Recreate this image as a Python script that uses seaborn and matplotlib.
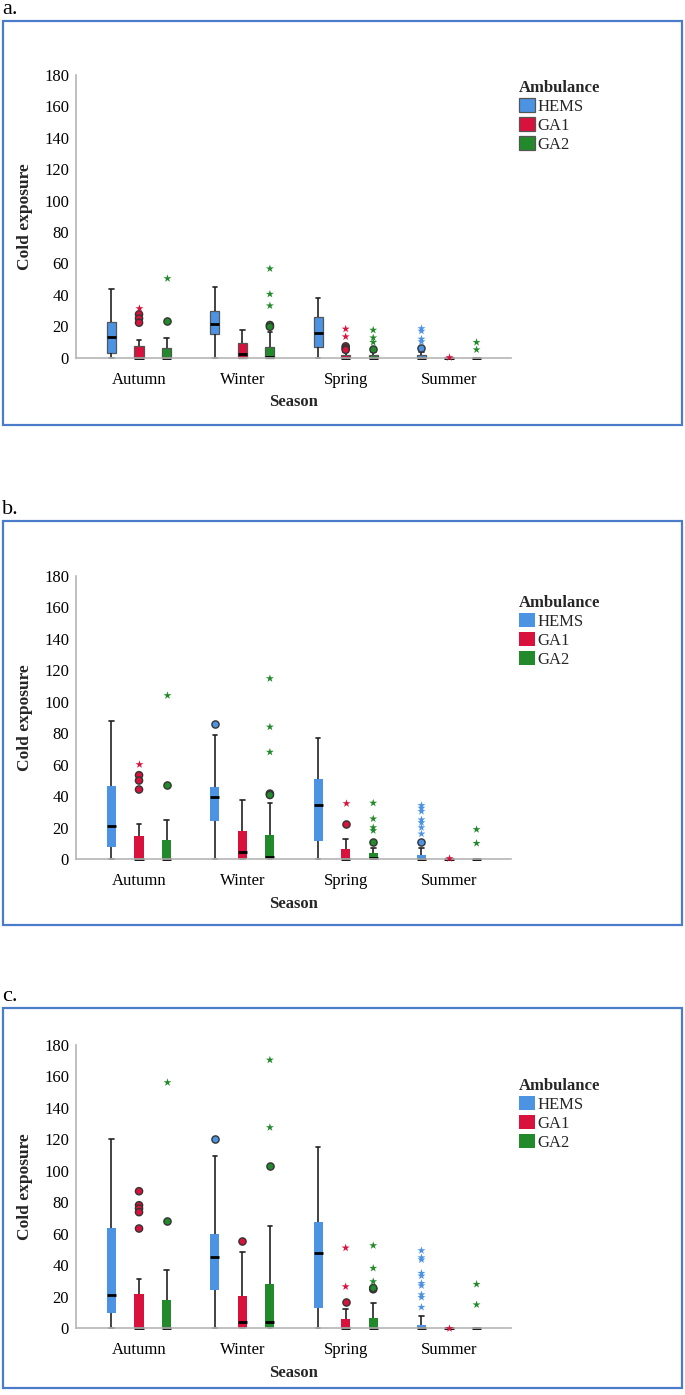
import numpy as np
import pandas as pd
import matplotlib
matplotlib.use("Agg")
import matplotlib.pyplot as plt
from matplotlib.patches import Patch, Rectangle
import seaborn as sns

seasons = ["Autumn", "Winter", "Spring", "Summer"]
ambulances = ["HEMS", "GA1", "GA2"]
colors = ["#4c93e4", "#d9123d", "#238a2b"]
yticks = [0, 20, 40, 60, 80, 100, 120, 140, 160, 180]

# Box statistics, order: Autumn(HEMS,GA1,GA2), Winter(...), Spring(...), Summer(...)
a_lo  = [0, 0, 0,   0, 0, 0,    0, 0, 0,   0, 0, 0]
a_q1  = [3.2, 0, 0, 15.1, 0, 0, 7.0, 0, 0, 0, 0, 0]
a_med = [13.4, 0, 0, 21.2, 2.1, 0.5, 15.9, 0, 0, 0, 0, 0]
a_q3  = [22.9, 7.4, 6.0, 30.0, 9.2, 6.8, 26.1, 2.0, 1.7, 1.7, 0, 0]
a_hi  = [43.7, 11.3, 12.3, 45.2, 17.6, 16.2, 37.8, 3.5, 3.4, 3.8, 0, 0]
a_circ_season = ["Autumn", "Autumn", "Autumn", "Autumn", "Winter", "Winter",
                 "Spring", "Spring", "Spring", "Spring", "Summer"]
a_circ_amb = ["GA1", "GA1", "GA1", "GA2", "GA2", "GA2",
              "GA1", "GA1", "GA1", "GA2", "HEMS"]
a_circ_val = [27.6, 25.0, 22.3, 23.6, 20.8, 19.7, 7.2, 6.0, 5.0, 5.3, 6.4]
a_star_season = ["Autumn", "Autumn", "Winter", "Winter", "Winter",
                 "Spring", "Spring", "Spring", "Spring", "Spring",
                 "Summer", "Summer", "Summer", "Summer", "Summer", "Summer", "Summer"]
a_star_amb = ["GA1", "GA2", "GA2", "GA2", "GA2",
              "GA1", "GA1", "GA2", "GA2", "GA2",
              "HEMS", "HEMS", "HEMS", "HEMS", "GA1", "GA2", "GA2"]
a_star_val = [31.4, 51.0, 56.7, 40.5, 33.1,
              18.3, 13.4, 17.6, 12.7, 9.8,
              18.6, 17.0, 11.9, 10.2, 0.5, 9.8, 5.1]

b_lo  = [0, 0, 0,   0, 0, 0,    0, 0, 0,   0, 0, 0]
b_q1  = [7.5, 0, 0, 24.3, 0, 0, 11.7, 0, 0, 0, 0, 0]
b_med = [21.3, 0, 0, 39.3, 4.5, 1.3, 34.6, 0, 0.5, 0, 0, 0]
b_q3  = [46.7, 14.9, 12.2, 46.1, 17.9, 15.1, 50.6, 6.2, 3.6, 2.6, 0, 0]
b_hi  = [87.9, 22.2, 24.7, 78.9, 37.8, 35.4, 77.0, 13.0, 6.8, 7.2, 0, 0]
b_circ_season = ["Autumn", "Autumn", "Autumn", "Autumn", "Winter", "Winter", "Winter",
                 "Spring", "Spring", "Summer"]
b_circ_amb = ["GA1", "GA1", "GA1", "GA2", "HEMS", "GA2", "GA2", "GA1", "GA2", "HEMS"]
b_circ_val = [53.3, 49.9, 44.2, 46.9, 85.8, 41.6, 40.7, 22.4, 10.7, 11.1]
b_star_season = ["Autumn", "Autumn", "Winter", "Winter", "Winter",
                 "Spring", "Spring", "Spring", "Spring", "Spring",
                 "Summer", "Summer", "Summer", "Summer", "Summer", "Summer", "Summer",
                 "Summer", "Summer", "Summer"]
b_star_amb = ["GA1", "GA2", "GA2", "GA2", "GA2",
              "GA1", "GA2", "GA2", "GA2", "GA2",
              "HEMS", "HEMS", "HEMS", "HEMS", "HEMS", "HEMS", "HEMS",
              "GA1", "GA2", "GA2"]
b_star_val = [60.6, 104.3, 114.8, 84.0, 68.0,
              35.6, 35.6, 25.6, 20.0, 18.1,
              34.1, 32.4, 30.3, 25.0, 23.2, 20.0, 16.0,
              0.5, 18.8, 10.0]

c_lo  = [0, 0, 0,   0, 0, 0,    0, 0, 0,   0, 0, 0]
c_q1  = [9.5, 0, 0, 24.4, 0, 0, 13.1, 0, 0, 0, 0, 0]
c_med = [21.0, 0, 0, 45.6, 4.0, 4.0, 48.1, 0, 0, 0, 0, 0]
c_q3  = [63.6, 21.8, 17.8, 60.2, 20.7, 28.2, 67.8, 5.9, 6.6, 2.3, 0, 0]
c_hi  = [120.2, 31.6, 36.9, 109.6, 48.5, 65.3, 115.0, 12.3, 15.9, 7.6, 0, 0]
c_circ_season = ["Autumn", "Autumn", "Autumn", "Autumn", "Autumn", "Autumn",
                 "Winter", "Winter", "Winter", "Spring", "Spring", "Spring"]
c_circ_amb = ["GA1", "GA1", "GA1", "GA1", "GA1", "GA2",
              "HEMS", "GA1", "GA2", "GA1", "GA2", "GA2"]
c_circ_val = [87.1, 78.2, 76.1, 73.8, 63.4, 68.1, 120.4, 55.5, 103.2, 16.7, 24.8, 25.6]
c_star_season = ["Autumn", "Winter", "Winter", "Spring", "Spring", "Spring", "Spring", "Spring",
                 "Summer", "Summer", "Summer", "Summer", "Summer", "Summer", "Summer",
                 "Summer", "Summer", "Summer", "Summer", "Summer", "Summer"]
c_star_amb = ["GA2", "GA2", "GA2", "GA1", "GA1", "GA2", "GA2", "GA2",
              "HEMS", "HEMS", "HEMS", "HEMS", "HEMS", "HEMS", "HEMS", "HEMS", "HEMS", "HEMS",
              "GA1", "GA2", "GA2"]
c_star_val = [156.2, 170.5, 127.6, 51.1, 26.5, 52.6, 38.2, 29.7,
              49.4, 44.9, 43.6, 35.0, 33.3, 28.6, 27.1, 21.4, 19.7, 13.4,
              0.5, 28.0, 15.0]

sns.set_theme(style="white")
plt.rcParams["font.family"] = ["Liberation Serif", "DejaVu Serif"]

fig = plt.figure(figsize=(6.85, 13.95), dpi=100)
W, H = 685.0, 1395.0
frame_color = "#4a7cc9"


def box_frame(df_lo, q1, med, q3, hi):
    rows = []
    i = 0
    for s in seasons:
        for a in ambulances:
            for v in (df_lo[i], q1[i], med[i], q3[i], hi[i]):
                rows.append((s, a, v))
            i += 1
    return pd.DataFrame(rows, columns=["Season", "Ambulance", "Cold exposure"])


def draw_panel(letter, frame_top, frame_bot, zero_y, top_y, lo, q1, med, q3, hi,
               cs, ca, cv, ss, sa, sv, edged, leg_top):
    # outer frame
    fig.add_artist(Rectangle((3 / W, 1 - frame_bot / H), 679 / W,
                             (frame_bot - frame_top) / H, transform=fig.transFigure,
                             fill=False, edgecolor=frame_color, linewidth=1.6))
    fig.text(2 / W, 1 - (frame_top - 7) / H, letter, fontsize=16, va="baseline",
             ha="left", color="black")
    ax = fig.add_axes([76 / W, 1 - zero_y / H, 435 / W, (zero_y - top_y) / H])
    df = box_frame(lo, q1, med, q3, hi)
    boxprops = {"edgecolor": "#555555", "linewidth": 0.9} if edged else {"linewidth": 0}
    sns.boxplot(data=df, x="Season", y="Cold exposure", hue="Ambulance",
                order=seasons, hue_order=ambulances, palette=colors, saturation=1,
                whis=(0, 100), width=0.8, gap=0.67, ax=ax, legend=False,
                boxprops=boxprops,
                medianprops={"color": "black", "linewidth": 2.0},
                whiskerprops={"color": "#222222", "linewidth": 1.2},
                capprops={"color": "#222222", "linewidth": 1.2})
    for art in list(ax.lines) + list(ax.patches):
        art.set_clip_on(False)
    dfc = pd.DataFrame({"Season": cs, "Ambulance": ca, "Cold exposure": cv})
    sns.stripplot(data=dfc, x="Season", y="Cold exposure", hue="Ambulance",
                  order=seasons, hue_order=ambulances, palette=colors, dodge=True,
                  jitter=False, size=5.2, linewidth=1.0, edgecolor="#333333",
                  marker="o", ax=ax, legend=False, zorder=4)
    dfs = pd.DataFrame({"Season": ss, "Ambulance": sa, "Cold exposure": sv})
    sns.stripplot(data=dfs, x="Season", y="Cold exposure", hue="Ambulance",
                  order=seasons, hue_order=ambulances, palette=colors, dodge=True,
                  jitter=False, size=6, linewidth=0, marker="*", ax=ax,
                  legend=False, zorder=4, clip_on=False)
    ax.set_ylim(0, 180)
    ax.set_xlim(-0.61, 3.6)
    ax.set_yticks(yticks)
    ax.tick_params(axis="both", length=0, labelsize=12, colors="black")
    ax.tick_params(axis="y", pad=5)
    ax.tick_params(axis="x", pad=10)
    sns.despine(ax=ax)
    for sp in ("left", "bottom"):
        ax.spines[sp].set_color("#b5b5b5")
        ax.spines[sp].set_linewidth(1.2)
    ax.set_ylabel("Cold exposure", fontsize=12.5, fontweight="bold")
    ax.set_xlabel("Season", fontsize=12, fontweight="bold")
    ax.yaxis.set_label_coords(-0.098, 0.5)
    ax.xaxis.set_label_coords(0.5, -0.13)
    handles = [Patch(facecolor=c, edgecolor="#555555" if edged else c,
                     linewidth=0.9 if edged else 0, label=l)
               for c, l in zip(colors, ambulances)]
    fig.legend(handles=handles, title="Ambulance", loc="upper left",
               bbox_to_anchor=(519 / W, 1 - leg_top / H), frameon=False,
               borderpad=0, borderaxespad=0, handlelength=0.95,
               handleheight=0.95, handletextpad=0.15, labelspacing=0.12,
               fontsize=12, title_fontproperties={"weight": "bold", "size": 12},
               alignment="left")
    return ax


draw_panel("a.", 21, 425, 357.7, 75, a_lo, a_q1, a_med, a_q3, a_hi,
           a_circ_season, a_circ_amb, a_circ_val, a_star_season, a_star_amb, a_star_val,
           True, 80)
draw_panel("b.", 521, 925, 859, 576, b_lo, b_q1, b_med, b_q3, b_hi,
           b_circ_season, b_circ_amb, b_circ_val, b_star_season, b_star_amb, b_star_val,
           False, 595)
draw_panel("c.", 1008, 1388, 1328.3, 1045, c_lo, c_q1, c_med, c_q3, c_hi,
           c_circ_season, c_circ_amb, c_circ_val, c_star_season, c_star_amb, c_star_val,
           False, 1078)

fig.savefig("out.png", dpi=100)
